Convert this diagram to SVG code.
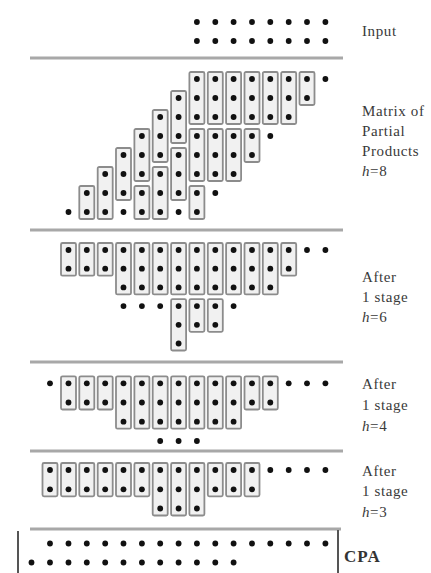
<svg xmlns="http://www.w3.org/2000/svg" xmlns:xlink="http://www.w3.org/1999/xlink" width="431" height="573" viewBox="0 0 431 573">
<style>
.d{fill:#111}
.b{fill:#f1f1f1;stroke:#8c8c8c;stroke-width:1.8}
.sep{stroke:#a8a8a8;stroke-width:3;fill:none}
.edge{stroke:#555;stroke-width:2;fill:none}
.lb{font-family:"Liberation Serif","Times New Roman",serif;font-size:15px;fill:#3a3a3a;letter-spacing:0.6px}
.cpa{font-family:"Liberation Serif","Times New Roman",serif;font-size:17px;font-weight:bold;fill:#333;letter-spacing:1px}
</style>
<defs>
<circle id="d" r="2.9" class="d"/>
<rect id="b2" width="15" height="33" rx="1.5" class="b"/>
<rect id="b3" width="15" height="52" rx="1.5" class="b"/>
</defs>
<rect width="431" height="573" fill="#fff"/>

<g id="separators">
<line class="sep" x1="30" y1="58" x2="343" y2="58"/>
<line class="sep" x1="30" y1="230" x2="343" y2="230"/>
<line class="sep" x1="30" y1="362" x2="343" y2="362"/>
<line class="sep" x1="30" y1="451" x2="343" y2="451"/>
<line class="sep" x1="30" y1="529" x2="341" y2="529"/>
</g>

<g id="input">
<g id="input-dots">
<use xlink:href="#d" x="196.9" y="22"/><use xlink:href="#d" x="215.3" y="22"/><use xlink:href="#d" x="233.6" y="22"/><use xlink:href="#d" x="252" y="22"/><use xlink:href="#d" x="270.3" y="22"/><use xlink:href="#d" x="288.7" y="22"/><use xlink:href="#d" x="307" y="22"/><use xlink:href="#d" x="325.4" y="22"/>
<use xlink:href="#d" x="196.9" y="41"/><use xlink:href="#d" x="215.3" y="41"/><use xlink:href="#d" x="233.6" y="41"/><use xlink:href="#d" x="252" y="41"/><use xlink:href="#d" x="270.3" y="41"/><use xlink:href="#d" x="288.7" y="41"/><use xlink:href="#d" x="307" y="41"/><use xlink:href="#d" x="325.4" y="41"/>
</g>
<text class="lb" x="362" y="36">Input</text>
</g>

<g id="matrix">
<g id="matrix-boxes">
<use xlink:href="#b2" x="299.5" y="72"/>
<use xlink:href="#b3" x="281.2" y="72"/>
<use xlink:href="#b3" x="262.8" y="72"/>
<use xlink:href="#b3" x="244.5" y="72"/><use xlink:href="#b2" x="244.5" y="129"/>
<use xlink:href="#b3" x="226.1" y="72"/><use xlink:href="#b3" x="226.1" y="129"/>
<use xlink:href="#b3" x="207.8" y="72"/><use xlink:href="#b3" x="207.8" y="129"/>
<use xlink:href="#b3" x="189.4" y="72"/><use xlink:href="#b3" x="189.4" y="129"/><use xlink:href="#b2" x="189.4" y="186"/>
<use xlink:href="#b3" x="171.1" y="91"/><use xlink:href="#b3" x="171.1" y="148"/>
<use xlink:href="#b3" x="152.7" y="110"/><use xlink:href="#b3" x="152.7" y="167"/>
<use xlink:href="#b3" x="134.4" y="129"/><use xlink:href="#b2" x="134.4" y="186"/>
<use xlink:href="#b3" x="116" y="148"/>
<use xlink:href="#b3" x="97.7" y="167"/>
<use xlink:href="#b2" x="79.3" y="186"/>
</g>
<g id="matrix-dots">
<use xlink:href="#d" x="68.5" y="212"/>
<use xlink:href="#d" x="86.8" y="193"/><use xlink:href="#d" x="86.8" y="212"/>
<use xlink:href="#d" x="105.2" y="174"/><use xlink:href="#d" x="105.2" y="193"/><use xlink:href="#d" x="105.2" y="212"/>
<use xlink:href="#d" x="123.5" y="155"/><use xlink:href="#d" x="123.5" y="174"/><use xlink:href="#d" x="123.5" y="193"/><use xlink:href="#d" x="123.5" y="212"/>
<use xlink:href="#d" x="141.9" y="136"/><use xlink:href="#d" x="141.9" y="155"/><use xlink:href="#d" x="141.9" y="174"/><use xlink:href="#d" x="141.9" y="193"/><use xlink:href="#d" x="141.9" y="212"/>
<use xlink:href="#d" x="160.2" y="117"/><use xlink:href="#d" x="160.2" y="136"/><use xlink:href="#d" x="160.2" y="155"/><use xlink:href="#d" x="160.2" y="174"/><use xlink:href="#d" x="160.2" y="193"/><use xlink:href="#d" x="160.2" y="212"/>
<use xlink:href="#d" x="178.6" y="98"/><use xlink:href="#d" x="178.6" y="117"/><use xlink:href="#d" x="178.6" y="136"/><use xlink:href="#d" x="178.6" y="155"/><use xlink:href="#d" x="178.6" y="174"/><use xlink:href="#d" x="178.6" y="193"/><use xlink:href="#d" x="178.6" y="212"/>
<use xlink:href="#d" x="196.9" y="79"/><use xlink:href="#d" x="196.9" y="98"/><use xlink:href="#d" x="196.9" y="117"/><use xlink:href="#d" x="196.9" y="136"/><use xlink:href="#d" x="196.9" y="155"/><use xlink:href="#d" x="196.9" y="174"/><use xlink:href="#d" x="196.9" y="193"/><use xlink:href="#d" x="196.9" y="212"/>
<use xlink:href="#d" x="215.3" y="79"/><use xlink:href="#d" x="215.3" y="98"/><use xlink:href="#d" x="215.3" y="117"/><use xlink:href="#d" x="215.3" y="136"/><use xlink:href="#d" x="215.3" y="155"/><use xlink:href="#d" x="215.3" y="174"/><use xlink:href="#d" x="215.3" y="193"/>
<use xlink:href="#d" x="233.6" y="79"/><use xlink:href="#d" x="233.6" y="98"/><use xlink:href="#d" x="233.6" y="117"/><use xlink:href="#d" x="233.6" y="136"/><use xlink:href="#d" x="233.6" y="155"/><use xlink:href="#d" x="233.6" y="174"/>
<use xlink:href="#d" x="252" y="79"/><use xlink:href="#d" x="252" y="98"/><use xlink:href="#d" x="252" y="117"/><use xlink:href="#d" x="252" y="136"/><use xlink:href="#d" x="252" y="155"/>
<use xlink:href="#d" x="270.3" y="79"/><use xlink:href="#d" x="270.3" y="98"/><use xlink:href="#d" x="270.3" y="117"/><use xlink:href="#d" x="270.3" y="136"/>
<use xlink:href="#d" x="288.7" y="79"/><use xlink:href="#d" x="288.7" y="98"/><use xlink:href="#d" x="288.7" y="117"/>
<use xlink:href="#d" x="307" y="79"/><use xlink:href="#d" x="307" y="98"/>
<use xlink:href="#d" x="325.4" y="79"/>
</g>
<text class="lb" x="362" y="116">Matrix of</text>
<text class="lb" x="362" y="136">Partial</text>
<text class="lb" x="362" y="156">Products</text>
<text class="lb" x="362" y="176"><tspan font-style="italic">h</tspan>=8</text>
</g>

<g id="stage1">
<g id="stage1-boxes">
<rect class="b" x="61" y="243" width="15" height="32.7" rx="1.5"/>
<rect class="b" x="79.3" y="243" width="15" height="32.7" rx="1.5"/>
<rect class="b" x="97.7" y="243" width="15" height="32.7" rx="1.5"/>
<rect class="b" x="116" y="243" width="15" height="51.4" rx="1.5"/>
<rect class="b" x="134.4" y="243" width="15" height="51.4" rx="1.5"/>
<rect class="b" x="152.7" y="243" width="15" height="51.4" rx="1.5"/>
<rect class="b" x="171.1" y="243" width="15" height="51.4" rx="1.5"/>
<rect class="b" x="189.4" y="243" width="15" height="51.4" rx="1.5"/>
<rect class="b" x="207.8" y="243" width="15" height="51.4" rx="1.5"/>
<rect class="b" x="226.1" y="243" width="15" height="51.4" rx="1.5"/>
<rect class="b" x="244.5" y="243" width="15" height="51.4" rx="1.5"/>
<rect class="b" x="262.8" y="243" width="15" height="51.4" rx="1.5"/>
<rect class="b" x="281.2" y="243" width="15" height="32.7" rx="1.5"/>
<rect class="b" x="171.1" y="299.1" width="15" height="51.4" rx="1.5"/>
<rect class="b" x="189.4" y="299.1" width="15" height="32.7" rx="1.5"/>
<rect class="b" x="207.8" y="299.1" width="15" height="32.7" rx="1.5"/>
</g>
<g id="stage1-dots">
<use xlink:href="#d" x="68.5" y="250"/><use xlink:href="#d" x="86.8" y="250"/><use xlink:href="#d" x="105.2" y="250"/><use xlink:href="#d" x="123.5" y="250"/><use xlink:href="#d" x="141.9" y="250"/><use xlink:href="#d" x="160.2" y="250"/><use xlink:href="#d" x="178.6" y="250"/><use xlink:href="#d" x="196.9" y="250"/><use xlink:href="#d" x="215.3" y="250"/><use xlink:href="#d" x="233.6" y="250"/><use xlink:href="#d" x="252" y="250"/><use xlink:href="#d" x="270.3" y="250"/><use xlink:href="#d" x="288.7" y="250"/><use xlink:href="#d" x="307" y="250"/><use xlink:href="#d" x="325.4" y="250"/>
<use xlink:href="#d" x="68.5" y="268.7"/><use xlink:href="#d" x="86.8" y="268.7"/><use xlink:href="#d" x="105.2" y="268.7"/><use xlink:href="#d" x="123.5" y="268.7"/><use xlink:href="#d" x="141.9" y="268.7"/><use xlink:href="#d" x="160.2" y="268.7"/><use xlink:href="#d" x="178.6" y="268.7"/><use xlink:href="#d" x="196.9" y="268.7"/><use xlink:href="#d" x="215.3" y="268.7"/><use xlink:href="#d" x="233.6" y="268.7"/><use xlink:href="#d" x="252" y="268.7"/><use xlink:href="#d" x="270.3" y="268.7"/><use xlink:href="#d" x="288.7" y="268.7"/>
<use xlink:href="#d" x="123.5" y="287.4"/><use xlink:href="#d" x="141.9" y="287.4"/><use xlink:href="#d" x="160.2" y="287.4"/><use xlink:href="#d" x="178.6" y="287.4"/><use xlink:href="#d" x="196.9" y="287.4"/><use xlink:href="#d" x="215.3" y="287.4"/><use xlink:href="#d" x="233.6" y="287.4"/><use xlink:href="#d" x="252" y="287.4"/><use xlink:href="#d" x="270.3" y="287.4"/>
<use xlink:href="#d" x="123.5" y="306.1"/><use xlink:href="#d" x="141.9" y="306.1"/><use xlink:href="#d" x="160.2" y="306.1"/><use xlink:href="#d" x="178.6" y="306.1"/><use xlink:href="#d" x="196.9" y="306.1"/><use xlink:href="#d" x="215.3" y="306.1"/><use xlink:href="#d" x="233.6" y="306.1"/>
<use xlink:href="#d" x="178.6" y="324.8"/><use xlink:href="#d" x="196.9" y="324.8"/><use xlink:href="#d" x="215.3" y="324.8"/>
<use xlink:href="#d" x="178.6" y="343.5"/>
</g>
<text class="lb" x="362" y="282">After</text>
<text class="lb" x="362" y="302">1 stage</text>
<text class="lb" x="362" y="322"><tspan font-style="italic">h</tspan>=6</text>
</g>

<g id="stage2">
<g id="stage2-boxes">
<rect class="b" x="61" y="376.3" width="15" height="33.2" rx="1.5"/>
<rect class="b" x="79.3" y="376.3" width="15" height="33.2" rx="1.5"/>
<rect class="b" x="97.7" y="376.3" width="15" height="33.2" rx="1.5"/>
<rect class="b" x="116" y="376.3" width="15" height="52.4" rx="1.5"/>
<rect class="b" x="134.4" y="376.3" width="15" height="52.4" rx="1.5"/>
<rect class="b" x="152.7" y="376.3" width="15" height="52.4" rx="1.5"/>
<rect class="b" x="171.1" y="376.3" width="15" height="52.4" rx="1.5"/>
<rect class="b" x="189.4" y="376.3" width="15" height="52.4" rx="1.5"/>
<rect class="b" x="207.8" y="376.3" width="15" height="52.4" rx="1.5"/>
<rect class="b" x="226.1" y="376.3" width="15" height="52.4" rx="1.5"/>
<rect class="b" x="244.5" y="376.3" width="15" height="33.2" rx="1.5"/>
<rect class="b" x="262.8" y="376.3" width="15" height="33.2" rx="1.5"/>
</g>
<g id="stage2-dots">
<use xlink:href="#d" x="50" y="383.3"/><use xlink:href="#d" x="68.5" y="383.3"/><use xlink:href="#d" x="86.8" y="383.3"/><use xlink:href="#d" x="105.2" y="383.3"/><use xlink:href="#d" x="123.5" y="383.3"/><use xlink:href="#d" x="141.9" y="383.3"/><use xlink:href="#d" x="160.2" y="383.3"/><use xlink:href="#d" x="178.6" y="383.3"/><use xlink:href="#d" x="196.9" y="383.3"/><use xlink:href="#d" x="215.3" y="383.3"/><use xlink:href="#d" x="233.6" y="383.3"/><use xlink:href="#d" x="252" y="383.3"/><use xlink:href="#d" x="270.3" y="383.3"/><use xlink:href="#d" x="288.7" y="383.3"/><use xlink:href="#d" x="307" y="383.3"/><use xlink:href="#d" x="325.4" y="383.3"/>
<use xlink:href="#d" x="68.5" y="402.5"/><use xlink:href="#d" x="86.8" y="402.5"/><use xlink:href="#d" x="105.2" y="402.5"/><use xlink:href="#d" x="123.5" y="402.5"/><use xlink:href="#d" x="141.9" y="402.5"/><use xlink:href="#d" x="160.2" y="402.5"/><use xlink:href="#d" x="178.6" y="402.5"/><use xlink:href="#d" x="196.9" y="402.5"/><use xlink:href="#d" x="215.3" y="402.5"/><use xlink:href="#d" x="233.6" y="402.5"/><use xlink:href="#d" x="252" y="402.5"/><use xlink:href="#d" x="270.3" y="402.5"/>
<use xlink:href="#d" x="123.5" y="421.7"/><use xlink:href="#d" x="141.9" y="421.7"/><use xlink:href="#d" x="160.2" y="421.7"/><use xlink:href="#d" x="178.6" y="421.7"/><use xlink:href="#d" x="196.9" y="421.7"/><use xlink:href="#d" x="215.3" y="421.7"/><use xlink:href="#d" x="233.6" y="421.7"/>
<use xlink:href="#d" x="160.2" y="441"/><use xlink:href="#d" x="178.6" y="441"/><use xlink:href="#d" x="196.9" y="441"/>
</g>
<text class="lb" x="362" y="389">After</text>
<text class="lb" x="362" y="410">1 stage</text>
<text class="lb" x="362" y="431"><tspan font-style="italic">h</tspan>=4</text>
</g>

<g id="stage3">
<g id="stage3-boxes">
<rect class="b" x="42.5" y="463" width="15" height="33.3" rx="1.5"/>
<rect class="b" x="61" y="463" width="15" height="33.3" rx="1.5"/>
<rect class="b" x="79.3" y="463" width="15" height="33.3" rx="1.5"/>
<rect class="b" x="97.7" y="463" width="15" height="33.3" rx="1.5"/>
<rect class="b" x="116" y="463" width="15" height="33.3" rx="1.5"/>
<rect class="b" x="134.4" y="463" width="15" height="33.3" rx="1.5"/>
<rect class="b" x="152.7" y="463" width="15" height="52.5" rx="1.5"/>
<rect class="b" x="171.1" y="463" width="15" height="52.5" rx="1.5"/>
<rect class="b" x="189.4" y="463" width="15" height="52.5" rx="1.5"/>
<rect class="b" x="207.8" y="463" width="15" height="33.3" rx="1.5"/>
<rect class="b" x="226.1" y="463" width="15" height="33.3" rx="1.5"/>
<rect class="b" x="244.5" y="463" width="15" height="33.3" rx="1.5"/>
</g>
<g id="stage3-dots">
<use xlink:href="#d" x="50" y="470"/><use xlink:href="#d" x="68.5" y="470"/><use xlink:href="#d" x="86.8" y="470"/><use xlink:href="#d" x="105.2" y="470"/><use xlink:href="#d" x="123.5" y="470"/><use xlink:href="#d" x="141.9" y="470"/><use xlink:href="#d" x="160.2" y="470"/><use xlink:href="#d" x="178.6" y="470"/><use xlink:href="#d" x="196.9" y="470"/><use xlink:href="#d" x="215.3" y="470"/><use xlink:href="#d" x="233.6" y="470"/><use xlink:href="#d" x="252" y="470"/><use xlink:href="#d" x="270.3" y="470"/><use xlink:href="#d" x="288.7" y="470"/><use xlink:href="#d" x="307" y="470"/><use xlink:href="#d" x="325.4" y="470"/>
<use xlink:href="#d" x="50" y="489.3"/><use xlink:href="#d" x="68.5" y="489.3"/><use xlink:href="#d" x="86.8" y="489.3"/><use xlink:href="#d" x="105.2" y="489.3"/><use xlink:href="#d" x="123.5" y="489.3"/><use xlink:href="#d" x="141.9" y="489.3"/><use xlink:href="#d" x="160.2" y="489.3"/><use xlink:href="#d" x="178.6" y="489.3"/><use xlink:href="#d" x="196.9" y="489.3"/><use xlink:href="#d" x="215.3" y="489.3"/><use xlink:href="#d" x="233.6" y="489.3"/><use xlink:href="#d" x="252" y="489.3"/>
<use xlink:href="#d" x="160.2" y="508.5"/><use xlink:href="#d" x="178.6" y="508.5"/><use xlink:href="#d" x="196.9" y="508.5"/>
</g>
<text class="lb" x="362" y="476">After</text>
<text class="lb" x="362" y="496">1 stage</text>
<text class="lb" x="362" y="517"><tspan font-style="italic">h</tspan>=3</text>
</g>

<g id="cpa">
<line class="edge" x1="18" y1="531" x2="18" y2="573"/>
<line class="edge" x1="338" y1="530" x2="338" y2="573"/>
<g id="cpa-dots">
<use xlink:href="#d" x="50" y="543.5"/><use xlink:href="#d" x="68.5" y="543.5"/><use xlink:href="#d" x="86.8" y="543.5"/><use xlink:href="#d" x="105.2" y="543.5"/><use xlink:href="#d" x="123.5" y="543.5"/><use xlink:href="#d" x="141.9" y="543.5"/><use xlink:href="#d" x="160.2" y="543.5"/><use xlink:href="#d" x="178.6" y="543.5"/><use xlink:href="#d" x="196.9" y="543.5"/><use xlink:href="#d" x="215.3" y="543.5"/><use xlink:href="#d" x="233.6" y="543.5"/><use xlink:href="#d" x="252" y="543.5"/><use xlink:href="#d" x="270.3" y="543.5"/><use xlink:href="#d" x="288.7" y="543.5"/><use xlink:href="#d" x="307" y="543.5"/><use xlink:href="#d" x="325.4" y="543.5"/>
<use xlink:href="#d" x="31.5" y="562.5"/><use xlink:href="#d" x="50" y="562.5"/><use xlink:href="#d" x="68.5" y="562.5"/><use xlink:href="#d" x="86.8" y="562.5"/><use xlink:href="#d" x="105.2" y="562.5"/><use xlink:href="#d" x="123.5" y="562.5"/><use xlink:href="#d" x="141.9" y="562.5"/><use xlink:href="#d" x="160.2" y="562.5"/><use xlink:href="#d" x="178.6" y="562.5"/><use xlink:href="#d" x="196.9" y="562.5"/><use xlink:href="#d" x="215.3" y="562.5"/><use xlink:href="#d" x="233.6" y="562.5"/>
</g>
<text class="cpa" x="344" y="562">CPA</text>
</g>
</svg>
